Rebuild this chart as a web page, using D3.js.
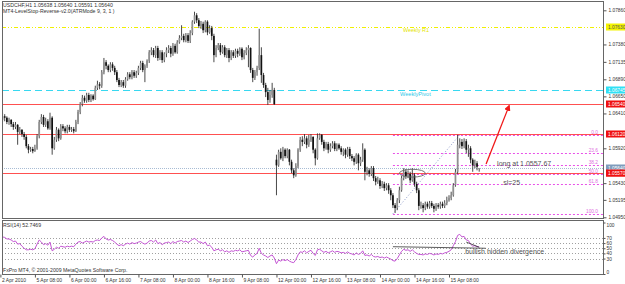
<!DOCTYPE html>
<html>
<head>
<meta charset="utf-8">
<script src="https://cdn.jsdelivr.net/npm/d3@7"></script>
<style>
  body { margin: 0; background: #fff; }
  svg text { font-family: "Liberation Sans", Arial, sans-serif; }
</style>
</head>
<body>
<svg id="chart" width="625" height="284"></svg>
<script>
// USDCHF H1 bars, 2 Apr 2010 16:00 .. 15 Apr 2010 22:00 (open = previous close unless listed in gapOpens)
const closes = [
  1.0632,1.0637,1.0635,1.0629,1.0632,1.0626,1.0622,1.0625,1.0615,1.0618,1.0612,1.0608,1.0595,1.0590,1.0591,1.0588,
  1.0592,1.0609,1.0629,1.0636,1.0625,1.0630,1.0620,1.0635,1.0592,1.0604,1.0618,1.0606,1.0623,1.0620,1.0616,1.0622,
  1.0618,1.0619,1.0616,1.0629,1.0643,1.0654,1.0663,1.0659,1.0667,1.0660,1.0666,1.0661,1.0677,1.0682,1.0680,1.0699,
  1.0713,1.0708,1.0702,1.0710,1.0705,1.0699,1.0688,1.0681,1.0685,1.0680,1.0689,1.0696,1.0692,1.0699,1.0694,1.0698,
  1.0705,1.0712,1.0702,1.0708,1.0715,1.0727,1.0730,1.0723,1.0733,1.0719,1.0727,1.0716,1.0725,1.0730,1.0733,1.0725,
  1.0736,1.0727,1.0741,1.0747,1.0750,1.0744,1.0751,1.0743,1.0754,1.0770,1.0779,1.0772,1.0764,1.0767,1.0758,1.0770,
  1.0755,1.0761,1.0750,1.0723,1.0733,1.0737,1.0727,1.0734,1.0723,1.0730,1.0719,1.0727,1.0722,1.0729,1.0725,1.0732,
  1.0720,1.0726,1.0730,1.0733,1.0702,1.0691,1.0699,1.0705,1.0723,1.0695,1.0681,1.0671,1.0660,1.0667,1.0674,1.0654,
  1.0568,1.0587,1.0578,1.0590,1.0581,1.0590,1.0573,1.0561,1.0554,1.0567,1.0590,1.0604,1.0601,1.0606,1.0597,1.0604,
  1.0608,1.0590,1.0578,1.0606,1.0611,1.0601,1.0592,1.0598,1.0590,1.0595,1.0599,1.0591,1.0597,1.0592,1.0587,1.0590,
  1.0583,1.0591,1.0581,1.0578,1.0573,1.0583,1.0571,1.0576,1.0590,1.0559,1.0561,1.0556,1.0564,1.0550,1.0545,1.0547,
  1.0539,1.0542,1.0536,1.0540,1.0533,1.0526,1.0512,1.0508,1.0519,1.0533,1.0550,1.0559,1.0553,1.0556,1.0547,1.0554,
  1.0542,1.0533,1.0511,1.0512,1.0508,1.0514,1.0510,1.0515,1.0511,1.0507,1.0512,1.0510,1.0514,1.0511,1.0515,1.0519,
  1.0522,1.0526,1.0540,1.0559,1.0597,1.0601,1.0595,1.0602,1.0590,1.0592,1.0576,1.0568,1.0571,1.0566,1.05640
];
const highs = [
  1.0639,1.0642,1.0640,1.0637,1.0635,1.0633,1.0629,1.0629,1.0626,1.0622,1.0619,1.0615,1.0611,1.0598,1.0594,1.0594,
  1.0597,1.0612,1.0632,1.0640,1.0639,1.0635,1.0633,1.0642,1.0637,1.0608,1.0622,1.0620,1.0626,1.0626,1.0623,1.0625,
  1.0625,1.0622,1.0622,1.0632,1.0646,1.0657,1.0667,1.0666,1.0670,1.0670,1.0668,1.0668,1.0680,1.0687,1.0685,1.0702,
  1.0719,1.0716,1.0710,1.0713,1.0713,1.0708,1.0702,1.0691,1.0688,1.0688,1.0692,1.0699,1.0699,1.0702,1.0702,1.0701,
  1.0708,1.0715,1.0715,1.0710,1.0717,1.0730,1.0734,1.0733,1.0736,1.0736,1.0730,1.0730,1.0727,1.0734,1.0737,1.0736,
  1.0740,1.0739,1.0744,1.0751,1.0765,1.0753,1.0754,1.0754,1.0758,1.0772,1.0784,1.0782,1.0775,1.0771,1.0770,1.0772,
  1.0772,1.0765,1.0764,1.0753,1.0737,1.0740,1.0740,1.0737,1.0737,1.0733,1.0733,1.0730,1.0730,1.0732,1.0732,1.0734,
  1.0734,1.0730,1.0734,1.0737,1.0734,1.0705,1.0702,1.0708,1.0760,1.0734,1.0698,1.0684,1.0677,1.0674,1.0684,1.0677,
  1.0583,1.0590,1.0592,1.0594,1.0592,1.0592,1.0591,1.0576,1.0564,1.0571,1.0592,1.0608,1.0609,1.0612,1.0609,1.0611,
  1.0612,1.0609,1.0592,1.0613,1.0613,1.0612,1.0604,1.0601,1.0601,1.0599,1.0602,1.0602,1.0599,1.0599,1.0595,1.0592,
  1.0592,1.0594,1.0594,1.0584,1.0581,1.0585,1.0585,1.0580,1.0599,1.0592,1.0566,1.0564,1.0567,1.0567,1.0553,1.0552,
  1.0550,1.0546,1.0545,1.0543,1.0543,1.0536,1.0529,1.0515,1.0522,1.0538,1.0553,1.0564,1.0563,1.0561,1.0559,1.0564,
  1.0557,1.0545,1.0536,1.0517,1.0515,1.0517,1.0517,1.0518,1.0518,1.0514,1.0515,1.0515,1.0517,1.0517,1.0519,1.0524,
  1.0526,1.0531,1.0543,1.0563,1.0611,1.0606,1.0605,1.0606,1.0605,1.0597,1.0595,1.0578,1.0576,1.0574,1.05640
];
const lows = [
  1.0590,1.0629,1.0630,1.0626,1.0625,1.0622,1.0618,1.0619,1.0597,1.0612,1.0608,1.0604,1.0592,1.0585,1.0587,1.0585,
  1.0587,1.0590,1.0606,1.0626,1.0622,1.0622,1.0618,1.0618,1.0583,1.0590,1.0601,1.0602,1.0604,1.0616,1.0613,1.0613,
  1.0615,1.0615,1.0613,1.0615,1.0626,1.0640,1.0651,1.0656,1.0656,1.0657,1.0657,1.0659,1.0660,1.0674,1.0675,1.0677,
  1.0696,1.0703,1.0699,1.0699,1.0701,1.0695,1.0685,1.0678,1.0678,1.0677,1.0677,1.0687,1.0689,1.0689,1.0691,1.0691,
  1.0695,1.0702,1.0699,1.0685,1.0705,1.0712,1.0723,1.0720,1.0719,1.0715,1.0716,1.0712,1.0713,1.0720,1.0726,1.0720,
  1.0722,1.0725,1.0725,1.0739,1.0744,1.0741,1.0741,1.0740,1.0740,1.0751,1.0767,1.0768,1.0761,1.0760,1.0754,1.0755,
  1.0751,1.0753,1.0744,1.0713,1.0720,1.0730,1.0723,1.0725,1.0720,1.0719,1.0713,1.0716,1.0719,1.0719,1.0720,1.0722,
  1.0716,1.0717,1.0723,1.0706,1.0698,1.0685,1.0688,1.0694,1.0702,1.0684,1.0677,1.0664,1.0653,1.0656,1.0663,1.0653,
  1.0526,1.0566,1.0576,1.0574,1.0578,1.0578,1.0568,1.0557,1.0550,1.0552,1.0564,1.0587,1.0595,1.0598,1.0592,1.0594,
  1.0601,1.0585,1.0568,1.0576,1.0604,1.0597,1.0588,1.0590,1.0585,1.0587,1.0592,1.0588,1.0588,1.0590,1.0583,1.0581,
  1.0578,1.0580,1.0577,1.0574,1.0568,1.0570,1.0561,1.0567,1.0573,1.0547,1.0554,1.0552,1.0553,1.0546,1.0540,1.0542,
  1.0535,1.0536,1.0532,1.0533,1.0528,1.0519,1.0508,1.0501,1.0505,1.0515,1.0531,1.0547,1.0549,1.0550,1.0543,1.0545,
  1.0538,1.0529,1.0505,1.0507,1.0502,1.0505,1.0507,1.0507,1.0508,1.0502,1.0504,1.0507,1.0507,1.0508,1.0508,1.0512,
  1.0517,1.0519,1.0524,1.0538,1.0556,1.0592,1.0591,1.0592,1.0585,1.0580,1.0571,1.0559,1.0564,1.0561,1.05591
];
const gapOpens = { 0: 1.0625, 128: 1.0576, 222: 1.05638 };

const rsiValues = [
  75,72,71,68,68,66,63,64,58,59,54,50,47,47,48,47,
  49,58,66,62,57,59,56,62,45,48,52,50,54,53,52,54,
  53,54,53,58,62,63,60,62,64,62,63,62,65,66,65,70,
  73,68,66,67,65,62,58,55,57,55,58,60,58,61,59,60,
  62,63,60,58,60,64,65,62,66,59,61,57,60,61,62,59,
  63,60,63,64,65,62,64,61,64,67,69,66,62,62,59,62,
  55,56,52,45,47,48,45,47,43,45,42,45,44,46,45,47,
  43,44,45,46,36,33,37,40,50,40,37,35,32,35,37,31,
  20,27,25,28,26,28,25,23,22,28,37,43,42,45,41,44,
  46,40,36,47,48,45,42,44,41,43,45,42,44,43,41,42,
  40,43,40,39,37,41,38,40,45,36,37,35,38,34,33,34,
  32,33,31,33,31,29,26,25,30,37,44,48,46,47,44,47,
  43,40,38,38,37,39,38,40,39,37,39,38,40,39,41,42,
  44,47,55,63,75,77,72,73,66,65,58,54,55,53,52.75
];

const priceTicks = [1.07860, 1.07380, 1.07135, 1.06890, 1.06650, 1.06410, 1.05920, 1.05430, 1.05195, 1.04950];
const rsiTicks = [100, 70, 60, 50, 40, 30, 0];
const rsiLevels = [70, 60, 50, 40, 30];
const timeTicks = [
  [0, "2 Apr 2010"], [16, "5 Apr 08:00"], [32, "6 Apr 00:00"], [48, "6 Apr 16:00"],
  [64, "7 Apr 08:00"], [80, "8 Apr 00:00"], [96, "8 Apr 16:00"], [112, "9 Apr 08:00"],
  [128, "12 Apr 00:00"], [144, "12 Apr 16:00"], [160, "13 Apr 08:00"], [176, "14 Apr 00:00"],
  [192, "14 Apr 16:00"], [208, "15 Apr 08:00"]
];

// levels and drawn objects
const weeklyR1 = 1.07630;
const weeklyPivot = 1.06745;
const redLevels = [1.06540, 1.06120, 1.05570];
const bidPrice = 1.05640;
const fibLow = { bar: 182, price: 1.0500 };
const fibHigh = { bar: 213, price: 1.0611 };
const fibLevels = [0, 23.6, 38.2, 50, 61.8, 100];
const arrowFrom = { bar: 225.2, price: 1.0570 };
const arrowTo = { bar: 235.9, price: 1.0652 };
const ellipseAt = { bar: 191, price: 1.0557, bars: 6, pips: 0.00055 };
const divergence = [[182, 53], [225, 50]];
const divergence2 = [[216, 62], [222, 52]];

const svg = d3.select('#chart');
const left = 2, right = 604;
const mainTop = 1, mainBottom = 218;
const rsiTop = 220, rsiBottom = 274;

const x = d3.scaleLinear().domain([0, 208]).range([0.4, 449]);
const y = d3.scaleLinear().domain([1.04950, 1.07860]).range([217.3, 10.3]);
const yRsi = d3.scaleLinear().domain([0, 100]).range([274, 222.5]);
const crisp = v => Math.round(v) + 0.5;

const defs = svg.append('defs');
defs.append('clipPath').attr('id', 'mainClip')
  .append('rect').attr('x', left).attr('y', mainTop).attr('width', right - left).attr('height', mainBottom - mainTop);
defs.append('clipPath').attr('id', 'rsiClip')
  .append('rect').attr('x', left).attr('y', rsiTop).attr('width', right - left).attr('height', rsiBottom - rsiTop);
defs.append('marker').attr('id', 'head')
  .attr('viewBox', '0 0 10 10').attr('refX', 8).attr('refY', 5)
  .attr('markerWidth', 5).attr('markerHeight', 5).attr('orient', 'auto')
  .append('path').attr('d', 'M0,0L10,5L0,10z').attr('fill', '#f01818');

const main = svg.append('g').attr('clip-path', 'url(#mainClip)');

// horizontal levels
const hline = (g, v, color, dash, width) => g.append('line')
  .attr('x1', left).attr('x2', right)
  .attr('y1', crisp(y(v))).attr('y2', crisp(y(v)))
  .attr('stroke', color).attr('stroke-width', width || 1)
  .attr('stroke-dasharray', dash || null);

hline(main, weeklyR1, '#f0f000', '4,2,1,2,1,2');
hline(main, weeklyPivot, '#38d8f0', '7,4');
redLevels.forEach(v => hline(main, v, '#ff5050'));
hline(main, bidPrice, '#a8bcd4', '1,1');

main.append('text').attr('x', x(186.7)).attr('y', y(weeklyR1) + 5)
  .attr('font-size', 5.4).attr('fill', '#e4e400').text('Weekly R1');
main.append('text').attr('x', x(185.3)).attr('y', y(weeklyPivot) + 6.5)
  .attr('font-size', 5.6).attr('fill', '#30c8e8').text('WeeklyPivot');

// fibonacci
const fibRange = fibHigh.price - fibLow.price;
const fib = main.append('g');
fibLevels.forEach(l => {
  const py = crisp(y(fibHigh.price - fibRange * l / 100));
  fib.append('line').attr('x1', x(fibLow.bar)).attr('x2', right)
    .attr('y1', py).attr('y2', py)
    .attr('stroke', '#e850e8').attr('stroke-dasharray', '2,2');
  fib.append('text').attr('x', 598).attr('y', py - 1.5)
    .attr('text-anchor', 'end').attr('font-size', 4.8).attr('fill', '#e070e0')
    .text(l.toFixed(1));
});
fib.append('line')
  .attr('x1', x(fibLow.bar)).attr('y1', y(fibLow.price))
  .attr('x2', x(fibHigh.bar)).attr('y2', y(fibHigh.price))
  .attr('stroke', '#8896c8').attr('stroke-dasharray', '1,2');

// candles
const candles = main.append('g');
closes.forEach((c, i) => {
  const o = gapOpens[i] !== undefined ? gapOpens[i] : closes[i - 1];
  const cx = x(i);
  candles.append('line')
    .attr('x1', cx).attr('x2', cx)
    .attr('y1', y(highs[i])).attr('y2', y(lows[i]))
    .attr('stroke', '#333').attr('stroke-width', 0.9);
  const top = y(Math.max(o, c));
  candles.append('rect')
    .attr('x', cx - 0.85).attr('width', 1.7)
    .attr('y', top).attr('height', Math.max(0.6, y(Math.min(o, c)) - top))
    .attr('fill', c >= o ? '#909090' : '#111');
});

// ellipse around the breakout zone
main.append('ellipse')
  .attr('cx', x(ellipseAt.bar)).attr('cy', y(ellipseAt.price))
  .attr('rx', x(ellipseAt.bar + ellipseAt.bars) - x(ellipseAt.bar))
  .attr('ry', y(ellipseAt.price - ellipseAt.pips) - y(ellipseAt.price))
  .attr('fill', 'none').attr('stroke', '#666').attr('stroke-width', 0.9);

// trade arrow and notes
main.append('line')
  .attr('x1', x(arrowFrom.bar)).attr('y1', y(arrowFrom.price))
  .attr('x2', x(arrowTo.bar)).attr('y2', y(arrowTo.price))
  .attr('stroke', '#f01818').attr('stroke-width', 1.3).attr('marker-end', 'url(#head)');
main.append('text').attr('x', x(230.3)).attr('y', y(1.0567))
  .attr('font-size', 7).attr('fill', '#555').text('long at 1.0557.67');
main.append('text').attr('x', x(233.1)).attr('y', y(1.0540))
  .attr('font-size', 7).attr('fill', '#555').text('sl=25');

// header
svg.append('text').attr('x', 3).attr('y', 7).attr('font-size', 5.2).attr('fill', '#333')
  .text('USDCHF,H1  1.05638 1.05640 1.05591 1.05640');
svg.append('text').attr('x', 3).attr('y', 13).attr('font-size', 5.2).attr('fill', '#333')
  .text('MT4-LevelStop-Reverse-v2.0(ATRMode 9, 3, 1 )');

// RSI window
const rsi = svg.append('g').attr('clip-path', 'url(#rsiClip)');
rsiLevels.forEach(l => rsi.append('line')
  .attr('x1', left).attr('x2', right)
  .attr('y1', crisp(yRsi(l))).attr('y2', crisp(yRsi(l)))
  .attr('stroke', '#a0a0a0').attr('stroke-dasharray', '1,2'));
rsi.append('path').datum(rsiValues)
  .attr('fill', 'none').attr('stroke', '#c455d4').attr('stroke-width', 1)
  .attr('d', d3.line().x((d, i) => x(i)).y(d => yRsi(d)));
[divergence, divergence2].forEach(seg => rsi.append('line')
  .attr('x1', x(seg[0][0])).attr('y1', yRsi(seg[0][1]))
  .attr('x2', x(seg[1][0])).attr('y2', yRsi(seg[1][1]))
  .attr('stroke', '#333').attr('stroke-width', 0.8));
rsi.append('text').attr('x', x(215.5)).attr('y', yRsi(38.3))
  .attr('font-size', 7).attr('fill', '#555').text('bullish hidden divergence');
svg.append('text').attr('x', 3).attr('y', 227).attr('font-size', 5.2).attr('fill', '#333')
  .text('RSI(14) 52.7469');
svg.append('text').attr('x', 3).attr('y', 272).attr('font-size', 5.2).attr('fill', '#333')
  .text('FxPro MT4, \u00a9 2001-2009 MetaQuotes Software Corp.');

// frames
svg.append('rect').attr('x', left + 0.5).attr('y', mainTop + 0.5)
  .attr('width', right - left - 1).attr('height', mainBottom - mainTop)
  .attr('fill', 'none').attr('stroke', '#666');
svg.append('rect').attr('x', left + 0.5).attr('y', rsiTop + 0.5)
  .attr('width', right - left - 1).attr('height', rsiBottom - rsiTop)
  .attr('fill', 'none').attr('stroke', '#666');

// price axis
const styleAxis = g => {
  g.select('.domain').remove();
  g.selectAll('line').attr('stroke', '#555');
  g.selectAll('text').attr('fill', '#333').attr('font-family', '"Liberation Sans", Arial, sans-serif');
};
svg.append('g').attr('transform', `translate(${right - 0.5},0)`)
  .call(d3.axisRight(y).tickValues(priceTicks).tickFormat(d3.format('.5f')).tickSize(3).tickPadding(2))
  .attr('font-size', 4.8).call(styleAxis);
svg.append('g').attr('transform', `translate(${right - 0.5},0)`)
  .call(d3.axisRight(yRsi).tickValues(rsiTicks).tickSize(2).tickPadding(1))
  .attr('font-size', 4.8).call(styleAxis)
  .selectAll('text').attr('dy', d => d === 100 ? '0.9em' : d === 0 ? '-0.1em' : '0.32em');

// price tags
const tag = (v, bg, fg) => {
  const py = Math.round(y(v));
  svg.append('rect').attr('x', 606).attr('y', py - 3.5).attr('width', 19).attr('height', 7).attr('fill', bg);
  svg.append('text').attr('x', 608).attr('y', py + 2).attr('font-size', 4.8).attr('fill', fg)
    .text(d3.format('.5f')(v));
};
tag(weeklyR1, '#f4f400', '#555');
tag(weeklyPivot, '#30e0f4', '#fff');
redLevels.forEach(v => tag(v, '#f01010', '#fff'));
tag(bidPrice, '#7f9cbc', '#fff');
tag(redLevels[2], '#f01010', '#fff');

// time axis
const tAxis = svg.append('g').attr('transform', `translate(0,${rsiBottom + 0.5})`)
  .call(d3.axisBottom(x).tickValues(timeTicks.map(t => t[0]))
    .tickFormat((d, i) => timeTicks[i][1]).tickSize(3).tickPadding(1))
  .attr('font-size', 5).call(styleAxis);
tAxis.selectAll('text').attr('text-anchor', 'start').attr('dx', 1);
</script>
</body>
</html>
